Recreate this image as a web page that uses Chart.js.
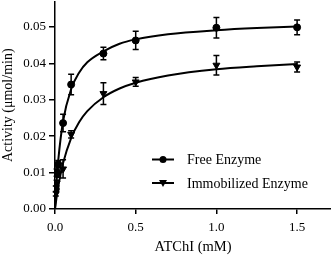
<!DOCTYPE html>
<html>
<head>
<meta charset="utf-8">
<script src="https://cdn.jsdelivr.net/npm/chart.js@4"></script>
<style>
  html, body { margin: 0; padding: 0; background: #fff; }
  #wrap { width: 331px; height: 256px; }
</style>
</head>
<body>
<div id="wrap"><canvas id="myChart"></canvas></div>
<script>
// measured points (ATChI mM)
const substrate = [0.005, 0.01, 0.02, 0.05, 0.1, 0.3, 0.5, 1.0, 1.5];
const freeActivity = [0.0055, 0.0100, 0.0123, 0.0236, 0.0342, 0.0427, 0.0463, 0.0498, 0.0499];
const freeError = [0.0008, 0.0010, 0.0010, 0.0024, 0.0028, 0.0017, 0.0025, 0.0028, 0.0020];
const immoActivity = [0.0042, 0.0071, 0.0097, 0.0110, 0.0205, 0.0317, 0.0349, 0.0395, 0.0390];
const immoError = [0.0006, 0.0008, 0.0010, 0.0025, 0.0010, 0.0030, 0.0012, 0.0027, 0.0014];

// fitted curves
const curveX = [0, 0.01, 0.02, 0.05, 0.1, 0.15, 0.2, 0.3, 0.4, 0.5, 0.7, 1.0, 1.25, 1.5];
const freeCurve = [0, 0.0077, 0.0133, 0.0241, 0.0329, 0.0375, 0.0403, 0.0433, 0.0454, 0.0466, 0.0480, 0.0491, 0.0497, 0.0501];
const immoCurve = [0, 0.0033, 0.0061, 0.0126, 0.0195, 0.0239, 0.0269, 0.0307, 0.0331, 0.0347, 0.0367, 0.0384, 0.0392, 0.0398];

const xTicks = [0, 0.5, 1.0, 1.5];
const yTicks = [0, 0.01, 0.02, 0.03, 0.04, 0.05];

const serif = "'Liberation Serif', 'Times New Roman', serif";

const toXY = (xs, ys) => xs.map((x, i) => ({ x: x, y: ys[i] }));

const errorBars = {
  id: 'errorBars',
  afterDatasetsDraw(chart) {
    const ctx = chart.ctx;
    const xs = chart.scales.x, ys = chart.scales.y;
    chart.data.datasets.forEach(ds => {
      if (!ds.errors) return;
      ctx.save();
      ctx.strokeStyle = '#000';
      ctx.lineWidth = 1.5;
      ds.data.forEach((p, i) => {
        const e = ds.errors[i];
        const px = xs.getPixelForValue(p.x);
        const top = ys.getPixelForValue(p.y + e);
        const bot = ys.getPixelForValue(p.y - e);
        ctx.beginPath();
        ctx.moveTo(px, top); ctx.lineTo(px, bot);
        ctx.moveTo(px - 3, top); ctx.lineTo(px + 3, top);
        ctx.moveTo(px - 3, bot); ctx.lineTo(px + 3, bot);
        ctx.stroke();
      });
      ctx.restore();
    });
  }
};

const insideLegend = {
  id: 'insideLegend',
  afterDraw(chart) {
    const ctx = chart.ctx;
    const items = chart.data.datasets.filter(d => d.legendText);
    ctx.save();
    items.forEach((ds, i) => {
      const y = 159.5 + i * 23.5;
      ctx.strokeStyle = '#000';
      ctx.lineWidth = 2;
      ctx.beginPath();
      ctx.moveTo(152, y); ctx.lineTo(174, y);
      ctx.stroke();
      ctx.fillStyle = '#000';
      ctx.beginPath();
      if (ds.pointStyle === 'circle') {
        ctx.arc(163, y, 3.5, 0, Math.PI * 2);
      } else {
        ctx.moveTo(159, y - 3); ctx.lineTo(167, y - 3); ctx.lineTo(163, y + 4);
        ctx.closePath();
      }
      ctx.fill();
      ctx.font = '14px ' + serif;
      ctx.textBaseline = 'middle';
      ctx.fillText(ds.legendText, 187, y + 1);
    });
    ctx.restore();
  }
};

new Chart(document.getElementById('myChart'), {
  type: 'scatter',
  data: {
    datasets: [
      {
        data: toXY(curveX, freeCurve),
        showLine: true, cubicInterpolationMode: 'monotone',
        borderColor: '#000', borderWidth: 2, pointRadius: 0
      },
      {
        data: toXY(curveX, immoCurve),
        showLine: true, cubicInterpolationMode: 'monotone',
        borderColor: '#000', borderWidth: 2, pointRadius: 0
      },
      {
        legendText: 'Free Enzyme',
        data: toXY(substrate, freeActivity), errors: freeError,
        pointStyle: 'circle', pointRadius: 3.5,
        backgroundColor: '#000', borderColor: '#000'
      },
      {
        legendText: 'Immobilized Enzyme',
        data: toXY(substrate, immoActivity), errors: immoError,
        pointStyle: 'triangle', pointRotation: 180, pointRadius: 4,
        backgroundColor: '#000', borderColor: '#000'
      }
    ]
  },
  options: {
    responsive: true,
    maintainAspectRatio: false,
    animation: false,
    layout: { autoPadding: false, padding: { top: 1.5, right: 0, left: 0, bottom: 0 } },
    plugins: { legend: { display: false }, tooltip: { enabled: false } },
    scales: {
      x: {
        type: 'linear', min: 0, max: 1.71,
        afterBuildTicks: s => { s.ticks = xTicks.map(v => ({ value: v })); },
        afterFit: s => { s.height = 47; s.paddingLeft = 0; s.paddingRight = 0; },
        ticks: {
          color: '#000', font: { family: serif, size: 13 }, padding: 6,
          callback: v => v.toFixed(1)
        },
        grid: { drawOnChartArea: false, drawTicks: true, tickLength: 5, color: '#000', lineWidth: 1.5 },
        border: { display: true, color: '#000', width: 1.5 },
        title: { display: true, text: 'ATChI (mM)', color: '#000', font: { family: serif, size: 14.5 }, padding: { top: 0, bottom: 0 } }
      },
      y: {
        type: 'linear', min: 0, max: 0.057,
        afterBuildTicks: s => { s.ticks = yTicks.map(v => ({ value: v })); },
        afterFit: s => { s.width = 55; s.paddingTop = 0; s.paddingBottom = 0; },
        ticks: {
          color: '#000', font: { family: serif, size: 13 }, padding: 3,
          callback: v => v.toFixed(2)
        },
        grid: { drawOnChartArea: false, drawTicks: true, tickLength: 6, color: '#000', lineWidth: 1.5 },
        border: { display: true, color: '#000', width: 1.5 },
        title: { display: true, text: 'Activity (\u03bcmol/min)', color: '#000', font: { family: serif, size: 14 }, padding: 0 }
      }
    }
  },
  plugins: [errorBars, insideLegend]
});
</script>
</body>
</html>
